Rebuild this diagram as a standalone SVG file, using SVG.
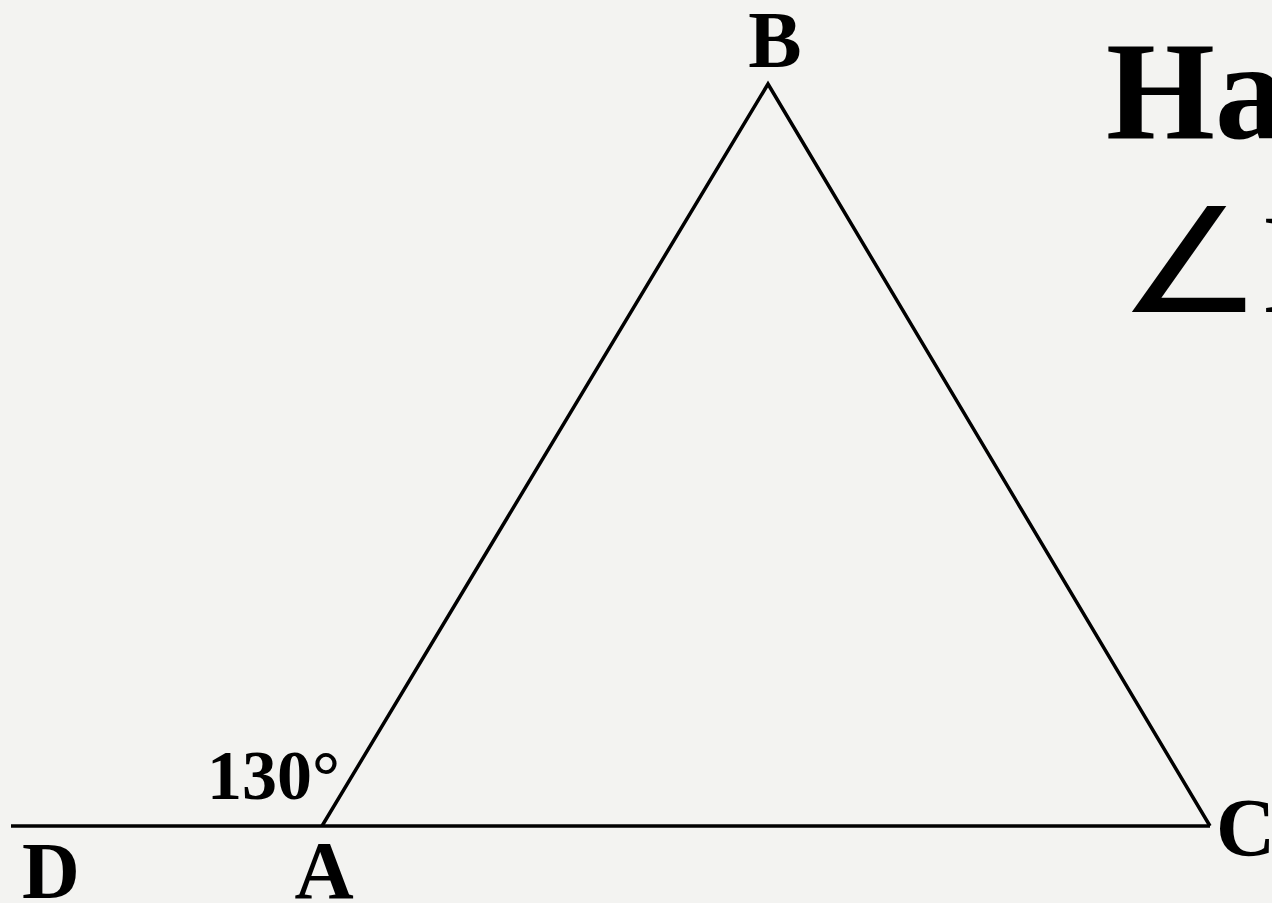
<svg xmlns="http://www.w3.org/2000/svg" width="1272" height="903" viewBox="0 0 1272 903">
<style>
.lbl{font-family:"Liberation Serif","Times New Roman",serif;font-weight:bold;fill:#000}
.ln{stroke:#000;stroke-width:3.5;fill:none;stroke-linejoin:miter}
</style>
<rect x="0" y="0" width="1272" height="903" fill="#f3f3f1"/>
<g id="connectors">
<line class="ln" x1="11" y1="826" x2="1210" y2="826"/>
<polyline class="ln" points="322,826 768,84 1210,826"/>
</g>
<g id="B"><text class="lbl" x="775" y="67" font-size="80" text-anchor="middle">B</text></g>
<g id="A"><text class="lbl" x="324" y="898" font-size="82" text-anchor="middle">A</text></g>
<g id="D"><text class="lbl" x="51" y="898" font-size="80" text-anchor="middle">D</text></g>
<g id="C"><text class="lbl" x="1216" y="855" font-size="82">C</text></g>
<g id="angle"><text class="lbl" x="207" y="799" font-size="70">130°</text></g>
<g id="title"><text class="lbl" x="1106" y="138" font-size="140">Ha</text></g>
<g id="sub">
<text transform="translate(1118,312) scale(1.08,0.97)" x="0" y="0" font-size="150" font-family="DejaVu Sans,sans-serif" fill="#000">∠</text>
<text x="1262" y="312" font-size="142" font-family="Liberation Serif,serif" fill="#000">B</text>
</g>
</svg>
